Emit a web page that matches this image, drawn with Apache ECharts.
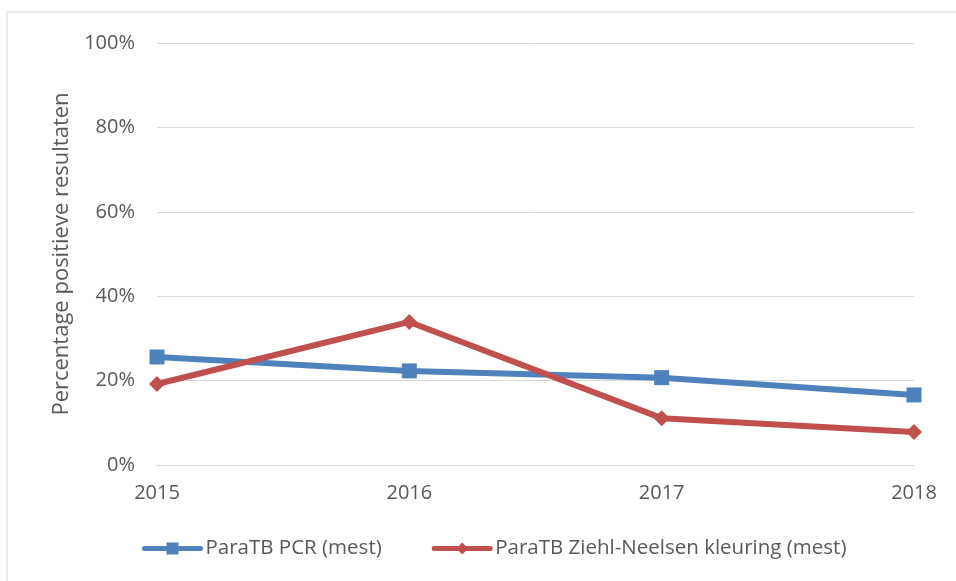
<!DOCTYPE html>
<html>
<head>
<meta charset="utf-8">
<script src="https://cdn.jsdelivr.net/npm/echarts@6/dist/echarts.min.js"></script>
<style>
  html, body { margin: 0; padding: 0; background: #fff; }
  #chart { width: 956px; height: 581px; }
</style>
</head>
<body>
<div id="chart"></div>
<script>
// Years on the x axis
var years = ['2015', '2016', '2017', '2018'];
// Percentage positive results per year
var pcrValues = [25.6, 22.3, 20.7, 16.6];
var ziehlValues = [19.2, 33.9, 11.1, 7.8];
var seriesNames = ['ParaTB PCR (mest)', 'ParaTB Ziehl-Neelsen kleuring (mest)'];
var yAxisTitle = 'Percentage positieve resultaten';

var chart = echarts.init(document.getElementById('chart'));
var textColor = '#595959';
var fontFamily = '"Open Sans", sans-serif';

var option = {
    animation: false,
    graphic: [{
        type: 'rect',
        shape: { x: 7, y: 12, width: 1000, height: 1000 },
        style: { fill: 'none', stroke: '#d9d9d9', lineWidth: 1 }
    }],
    grid: { left: 157, right: 42, top: 43, bottom: 116 },
    legend: {
        bottom: 17,
        left: 137,
        itemWidth: 56,
        itemHeight: 15,
        itemGap: 50,
        lineStyle: { width: 5 },
        textStyle: { color: textColor, fontSize: 20.5, fontFamily: fontFamily },
        data: seriesNames
    },
    xAxis: {
        type: 'category',
        data: years,
        boundaryGap: false,
        axisLine: { lineStyle: { color: '#d9d9d9', width: 1 } },
        axisTick: { show: false },
        axisLabel: { color: textColor, fontSize: 20, fontFamily: fontFamily, margin: 18 }
    },
    yAxis: {
        type: 'value',
        min: 0,
        max: 100,
        interval: 20,
        name: yAxisTitle,
        nameLocation: 'middle',
        nameGap: 84,
        nameTextStyle: { color: textColor, fontSize: 22, fontFamily: fontFamily },
        axisLine: { show: false },
        axisTick: { show: false },
        splitLine: { lineStyle: { color: '#d9d9d9', width: 1 } },
        axisLabel: {
            color: textColor, fontSize: 20, fontFamily: fontFamily, margin: 22,
            formatter: '{value}%'
        }
    },
    series: [{
        name: seriesNames[0],
        type: 'line',
        data: pcrValues,
        symbol: 'rect',
        symbolSize: 15,
        lineStyle: { color: '#4F81BD', width: 6, cap: 'round' },
        itemStyle: { color: '#4F81BD' }
    }, {
        name: seriesNames[1],
        type: 'line',
        data: ziehlValues,
        symbol: 'diamond',
        symbolSize: 16,
        lineStyle: { color: '#C0504D', width: 6, cap: 'round' },
        itemStyle: { color: '#C0504D' }
    }]
};
chart.setOption(option);
</script>
</body>
</html>
